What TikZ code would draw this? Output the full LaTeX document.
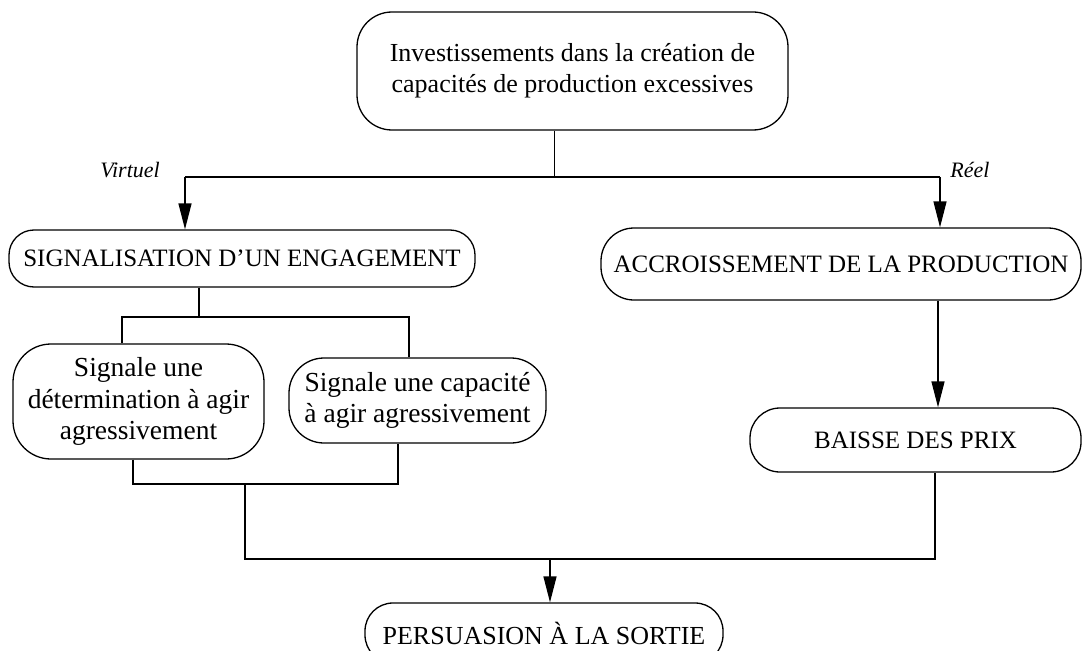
\documentclass[tikz,border=0pt]{standalone}
\usepackage{fontspec}
\setmainfont{Liberation Serif}
\usetikzlibrary{arrows.meta}
\begin{document}
\begin{tikzpicture}[x=1pt,y=-1pt,
  box/.style={draw=black, line width=1.3pt, inner sep=0pt, align=center},
  big/.style={font=\fontsize{27.5}{31.5}\selectfont},
  caps/.style={font=\fontsize{25}{30}\selectfont},
  lbl/.style={font=\fontsize{22}{26}\selectfont\itshape, inner sep=0pt},
  conn/.style={line width=1.3pt},
  arr/.style={line width=1.3pt, -{Triangle[length=26pt,width=13pt]}}]
\useasboundingbox (0,0) rectangle (1083,650);
\fill[white] (0,0) rectangle (1083,650);

\node[box, font=\fontsize{26}{31}\selectfont, rounded corners=35pt, minimum width=431pt, minimum height=118pt] (top) at (572.5,71)
  {Investissements dans la création de\\capacités de production excessives};
\node[box, caps, rounded corners=25pt, minimum width=466pt, minimum height=57pt] (sig) at (242,258.5)
  {SIGNALISATION D’UN ENGAGEMENT};
\node[box, caps, rounded corners=33pt, minimum width=480pt, minimum height=72pt] (acc) at (841,264)
  {ACCROISSEMENT DE LA PRODUCTION};
\node[box, big, rounded corners=38pt, minimum width=251pt, minimum height=115pt] (det) at (138.5,401.5)
  {Signale une\\détermination à agir\\agressivement};
\node[box, big, rounded corners=35pt, minimum width=257pt, minimum height=85pt] (cap) at (417.5,400.5)
  {Signale une capacité\\à agir agressivement};
\node[box, caps, rounded corners=30pt, minimum width=331pt, minimum height=64pt] (bai) at (915.5,440)
  {BAISSE DES PRIX};
\node[box, font=\fontsize{26}{30}\selectfont, rounded corners=28pt, minimum width=358pt, minimum height=60pt] (per) at (544,633)
  {PERSUASION À LA SORTIE};

\node[lbl] (vir) at (130,170) {Virtuel};
\node[lbl] (ree) at (970,170) {Réel};

% top split
\coordinate (jt) at (554.5,177);
\coordinate (jl) at (185,177);
\coordinate (jr) at (940,177);
\draw[conn] (top.south -| jt) -- (jt);
\draw[conn] (jl) -- (jr);
\draw[arr] (jl) -- (jl |- sig.north);
\draw[arr] (jr) -- (jr |- acc.north);

% signalisation split
\coordinate (js) at (199,317);
\coordinate (jsl) at (122,317);
\coordinate (jsr) at (409,317);
\draw[conn] (sig.south -| js) -- (js);
\draw[conn] (jsl |- det.north) -- (jsl) -- (jsr) -- (jsr |- cap.north);

% merge of two signals
\coordinate (jml) at (133,484);
\coordinate (jmr) at (398,484);
\coordinate (jm) at (245,484);
\draw[conn] (det.south -| jml) -- (jml) -- (jmr) -- (cap.south -| jmr);

% right chain
\coordinate (ja) at (938,300);
\draw[arr] (acc.south -| ja) -- (ja |- bai.north);

% final merge
\coordinate (jb) at (245,559);
\coordinate (jbr) at (935,559);
\coordinate (jp) at (550,559);
\draw[conn] (jm) -- (jb) -- (jbr) -- (bai.south -| jbr);
\draw[arr] (jp) -- (jp |- per.north);
\end{tikzpicture}
\end{document}
